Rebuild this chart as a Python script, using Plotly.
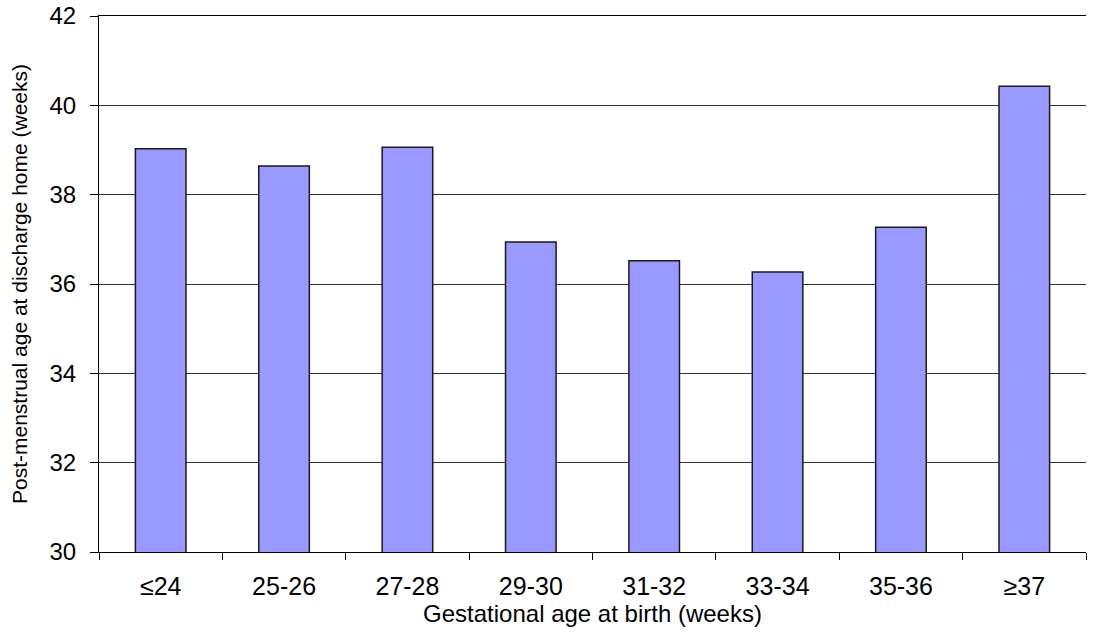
import plotly.graph_objects as go

categories = ["≤24", "25-26", "27-28", "29-30", "31-32", "33-34", "35-36", "≥37"]
pma_weeks = [39.03, 38.64, 39.06, 36.94, 36.52, 36.27, 37.27, 40.43]
y_ticks = [30, 32, 34, 36, 38, 40, 42]

fig = go.Figure(
    go.Bar(
        x=categories,
        y=pma_weeks,
        marker=dict(color="#9999FF", line=dict(color="#1a1a1a", width=1.5)),
        width=0.41,
    )
)

font_family = "Liberation Sans, Arial, sans-serif"
fig.update_layout(
    width=1103,
    height=639,
    margin=dict(l=99, r=17, t=16, b=87),
    plot_bgcolor="white",
    paper_bgcolor="white",
    showlegend=False,
    font=dict(family=font_family, size=20, color="black"),
)
fig.update_xaxes(
    automargin=False,
    title=dict(text="Gestational age at birth (weeks)", font=dict(size=24), standoff=6),
    showline=True,
    mirror=True,
    linecolor="black",
    linewidth=1,
    ticks="outside",
    tickson="boundaries",
    ticklen=7,
    tickcolor="black",
    tickfont=dict(size=25),
    ticklabelstandoff=12,
    showgrid=False,
)
fig.update_yaxes(
    automargin=False,
    title=dict(text="Post-menstrual age at discharge home (weeks)", font=dict(size=21), standoff=16),
    range=[30, 42],
    tickvals=y_ticks,
    showline=True,
    linecolor="black",
    linewidth=1,
    ticks="outside",
    ticklen=8,
    tickcolor="black",
    tickfont=dict(size=24),
    ticklabelstandoff=9,
    ticklabeloverflow="allow",
    showgrid=True,
    gridcolor="#333333",
    gridwidth=1,
    zeroline=False,
)

# remove the browser's default page margin so the figure fills the window exactly
fig.write_html(
    "out.html",
    config={"displayModeBar": False},
    post_script="document.body.style.margin='0';",
)
